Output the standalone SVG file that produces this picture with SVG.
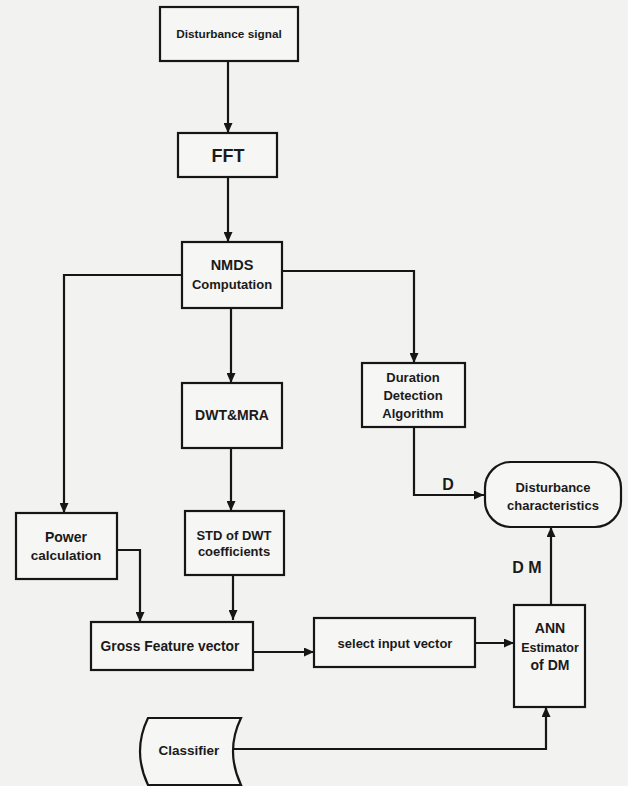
<svg xmlns="http://www.w3.org/2000/svg" width="628" height="786" viewBox="0 0 628 786">
<defs>
<marker id="ah" markerUnits="userSpaceOnUse" markerWidth="10" markerHeight="9" refX="10" refY="4.5" orient="auto">
<path d="M0,0 L10,4.5 L0,9 z" fill="#161616"/>
</marker>
<style>
.box{fill:#f6f6f4;stroke:#161616;stroke-width:2.2}
.t{font-family:"Liberation Sans",Arial,sans-serif;font-weight:bold;font-size:13px;fill:#1a1a1a;text-anchor:middle}
.c{fill:none;stroke:#161616;stroke-width:2.2;marker-end:url(#ah)}
.lbl{font-family:"Liberation Sans",Arial,sans-serif;font-weight:bold;font-size:16px;fill:#1a1a1a;text-anchor:middle}
</style>
</defs>
<rect width="628" height="786" fill="#f2f2f0"/>

<g id="connectors">
<path class="c" d="M228,61 V133"/>
<path class="c" d="M228,177 V242"/>
<path class="c" d="M182,275 H64 V513"/>
<path class="c" d="M282,271 H414 V363"/>
<path class="c" d="M231,308 V383"/>
<path class="c" d="M231,448 V511"/>
<path class="c" d="M414,427 V495 H484"/>
<path class="c" d="M117,550 H140 V622"/>
<path class="c" d="M233,575 V620"/>
<path class="c" d="M253,652 H314"/>
<path class="c" d="M475,643 H514"/>
<path class="c" d="M551,605 V527"/>
<path class="c" d="M233,749 H546 V707"/>
<text class="lbl" x="448" y="490">D</text>
<text class="lbl" x="527" y="573">D M</text>
</g>

<g id="disturbance-signal">
<rect class="box" x="160" y="7" width="138" height="54"/>
<text class="t" x="229" y="38" style="font-size:11.8px">Disturbance signal</text>
</g>

<g id="fft">
<rect class="box" x="178" y="133" width="99" height="44"/>
<text class="t" x="228" y="162" style="font-size:18px">FFT</text>
</g>

<g id="nmds">
<rect class="box" x="182" y="242" width="100" height="66"/>
<text class="t" x="232" y="270" style="font-size:14.5px">NMDS</text>
<text class="t" x="232" y="289">Computation</text>
</g>

<g id="dwt-mra">
<rect class="box" x="182" y="383" width="100" height="65"/>
<text class="t" x="232" y="420" style="font-size:14px">DWT&amp;MRA</text>
</g>

<g id="duration">
<rect class="box" x="362" y="363" width="103" height="64"/>
<text class="t" x="413" y="382">Duration</text>
<text class="t" x="413" y="400">Detection</text>
<text class="t" x="413" y="418">Algorithm</text>
</g>

<g id="disturbance-characteristics">
<rect class="box" x="485" y="462" width="136" height="65" rx="26" ry="26"/>
<text class="t" x="553" y="492">Disturbance</text>
<text class="t" x="553" y="510">characteristics</text>
</g>

<g id="power">
<rect class="box" x="16" y="513" width="101" height="66"/>
<text class="t" x="66" y="542" style="font-size:14px">Power</text>
<text class="t" x="66" y="560" style="font-size:13.5px">calculation</text>
</g>

<g id="std-dwt">
<rect class="box" x="185" y="511" width="99" height="64"/>
<text class="t" x="234" y="540">STD of DWT</text>
<text class="t" x="234" y="556">coefficients</text>
</g>

<g id="gross-feature">
<rect class="box" x="91" y="622" width="162" height="48"/>
<text class="t" x="170" y="651" style="font-size:13.8px">Gross Feature vector</text>
</g>

<g id="select-input">
<rect class="box" x="314" y="618" width="161" height="49"/>
<text class="t" x="395" y="648" style="font-size:13px">select input vector</text>
</g>

<g id="ann">
<rect class="box" x="514" y="605" width="71" height="102"/>
<text class="t" x="550" y="633" style="font-size:14px">ANN</text>
<text class="t" x="550" y="652" style="font-size:12.5px">Estimator</text>
<text class="t" x="550" y="670" style="font-size:14px">of DM</text>
</g>

<g id="classifier">
<path class="box" d="M148,718 H241 Q225,751 241,785 H148 Q132,751 148,718 z"/>
<text class="t" x="189" y="755" style="font-size:13.5px">Classifier</text>
</g>
</svg>
